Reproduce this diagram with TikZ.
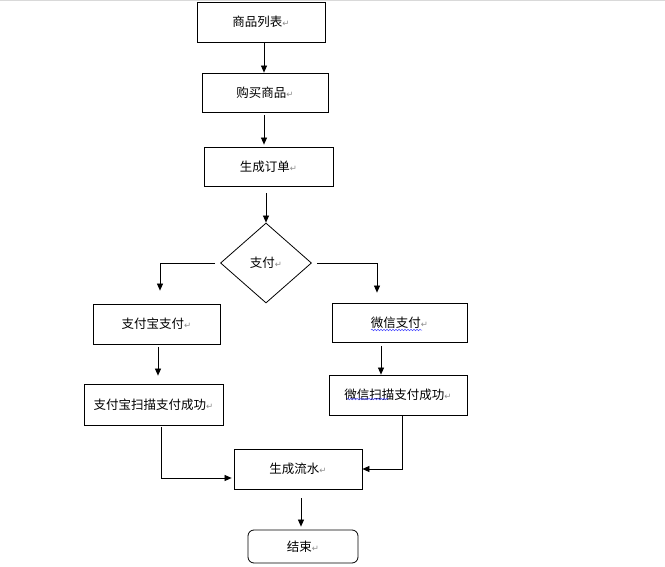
\documentclass[tikz,border=0pt]{standalone}
\usepackage{fontspec}
\newfontfamily\cjk{Noto Sans CJK SC}
\newfontfamily\symf{DejaVu Sans}
\usetikzlibrary{arrows.meta,shapes.geometric,decorations.pathmorphing}
\newcommand{\retmark}{{\symf\color[gray]{0.55}\fontsize{8.5}{9}\selectfont ↵}}
\begin{document}
\begin{tikzpicture}[x=1pt,y=-1pt,
  box/.style={draw, line width=0.8pt, inner sep=0pt, font=\cjk\fontsize{12.5}{14}\selectfont},
  arr/.style={line width=0.7pt, -{Triangle[length=7pt,width=6pt]}},
  wavy/.style={draw=blue!70!white, line width=0.5pt, decorate, decoration={snake, segment length=3pt, amplitude=0.8pt}}]
\useasboundingbox (0,0) rectangle (665,567);
\draw[gray!30, line width=1pt] (0,0.5) -- (665,0.5);

\node[box, minimum width=128pt, minimum height=40pt] (b1) at (261,22) {商品列表\retmark};
\node[box, minimum width=126pt, minimum height=39pt] (b2) at (265,92.5) {购买商品\retmark};
\node[box, minimum width=129pt, minimum height=39pt] (b3) at (268.5,166.5) {生成订单\retmark};
\node[box, shape=diamond, minimum width=91pt, minimum height=80pt, aspect=1.14] (d) at (266,263) {支付\retmark};
\node[box, minimum width=127pt, minimum height=40pt] (b4) at (156.5,324) {支付宝支付\retmark};
\node[box, minimum width=135pt, minimum height=39pt] (b5) at (399.5,322.5) {微信支付\retmark};
\node[box, minimum width=139pt, minimum height=41pt] (b6) at (153.5,404.5) {支付宝扫描支付成功\retmark};
\node[box, minimum width=138pt, minimum height=40pt] (b7) at (398,395) {微信扫描支付成功\retmark};
\node[box, minimum width=128pt, minimum height=40pt] (b8) at (298,469) {生成流水\retmark};
\node[box, rounded corners=6pt, minimum width=110pt, minimum height=33pt] (b9) at (303,546.5) {结束\retmark};

\draw[wavy] (371,330) -- (422,330);
\draw[wavy] (347,399) -- (388,399);

\draw[arr] ([xshift=3pt]b1.south) -- ([xshift=-1pt]b2.north);
\draw[arr, shorten <=3pt, shorten >=2pt] ([xshift=-1pt]b2.south) -- ([xshift=-4.5pt]b3.north);
\draw[arr, shorten <=7pt] ([xshift=-2.5pt]b3.south) -- (d.north);
\draw[arr, shorten <=5pt, shorten >=13pt] (d.west) -| ([xshift=3.5pt]b4.north);
\draw[arr, shorten <=5pt, shorten >=10pt] (d.east) -| ([xshift=-22.5pt]b5.north);
\draw[arr, shorten <=3pt, shorten >=8pt] ([xshift=1.5pt]b4.south) -- ([xshift=4.5pt]b6.north);
\draw[arr, shorten <=4pt] ([xshift=-18.5pt]b5.south) -- ([xshift=-17pt]b7.north);
\draw[arr, shorten <=2pt, shorten >=2pt] ([xshift=7.5pt]b6.south) |- ([yshift=-9pt]b8.west);
\draw[arr] ([xshift=4pt]b7.south) |- (b8.east);
\draw[arr, shorten <=9pt, shorten >=3pt] ([xshift=3pt]b8.south) -- ([xshift=-2pt]b9.north);
\end{tikzpicture}
\end{document}
